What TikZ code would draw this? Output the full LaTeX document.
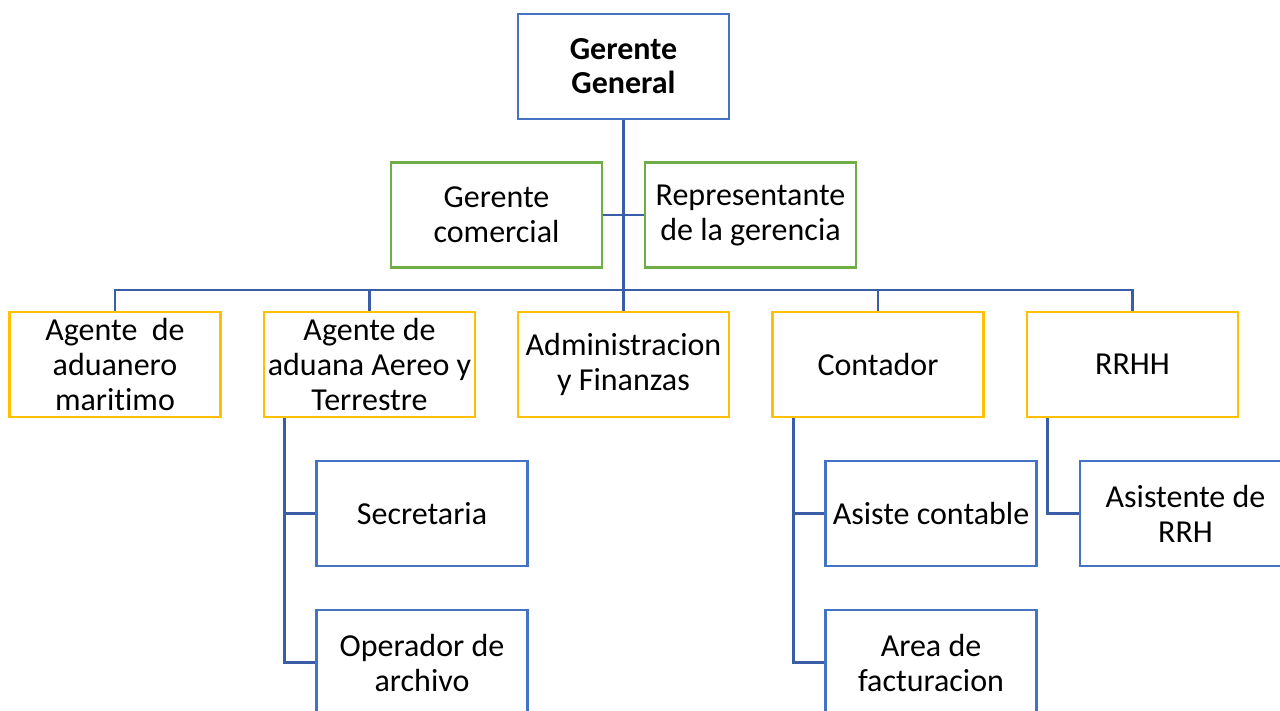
\documentclass[tikz,border=0pt]{standalone}
\usepackage{fontspec}
\setmainfont{Carlito}[Ligatures=NoCommon]
\definecolor{bblue}{HTML}{4472C4}
\definecolor{lblue}{HTML}{3A5DA8}
\definecolor{bgreen}{HTML}{70AD47}
\definecolor{byellow}{HTML}{FFC000}
\begin{document}
\begin{tikzpicture}[x=1pt,y=-1pt,
  box/.style={draw, line width=2.5pt, fill=white, minimum width=211pt, minimum height=105pt,
    inner sep=0pt, align=center, font=\fontsize{32}{35}\selectfont},
  bluebox/.style={box, draw=bblue},
  greenbox/.style={box, draw=bgreen},
  yellowbox/.style={box, draw=byellow},
  conn/.style={draw=lblue, line width=2.8pt}]
\useasboundingbox (0,0) rectangle (1280,710);
\coordinate (bus) at (623.5,290);
\node[bluebox, font=\fontsize{32}{34}\bfseries\selectfont] (gg) at (623.5,66.5) {Gerente\\General};
\node[greenbox] (gc) at (496.5,215) {Gerente\\comercial};
\node[greenbox] (rg) at (750.5,215) {Representante\\de la gerencia};
\node[yellowbox] (am) at (115,364.5) {Agente\ \ de\\aduanero\\maritimo};
\node[yellowbox] (aat) at (369.5,364.5) {Agente de\\aduana Aereo y\\Terrestre};
\node[yellowbox] (af) at (623.5,364.5) {Administracion\\y Finanzas};
\node[yellowbox] (ct) at (878,364.5) {Contador};
\node[yellowbox] (rh) at (1132.5,364.5) {RRHH};
\node[bluebox] (sec) at (422,513.5) {Secretaria};
\node[bluebox] (op) at (422,662.5) {Operador de\\archivo};
\node[bluebox] (ac) at (931,513.5) {Asiste contable};
\node[bluebox] (fa) at (931,662.5) {Area de\\facturacion};
\node[bluebox] (ar) at (1185.5,513.5) {Asistente de\\RRH};
% connectors
\draw[conn] (gg.south) -- (bus);
\draw[conn] (gc.east) -- (rg.west);
\draw[conn] (am.north) |- (bus) -| (rh.north);
\draw[conn] (aat.north) -- (aat.north |- bus);
\draw[conn] (af.north) -- (bus);
\draw[conn] (ct.north) -- (ct.north |- bus);
\draw[conn] ([xshift=22pt]aat.south west) |- (sec.west);
\draw[conn] ([xshift=22pt]aat.south west) |- (op.west);
\draw[conn] ([xshift=22pt]ct.south west) |- (ac.west);
\draw[conn] ([xshift=22pt]ct.south west) |- (fa.west);
\draw[conn] ([xshift=22pt]rh.south west) |- (ar.west);
\end{tikzpicture}
\end{document}
